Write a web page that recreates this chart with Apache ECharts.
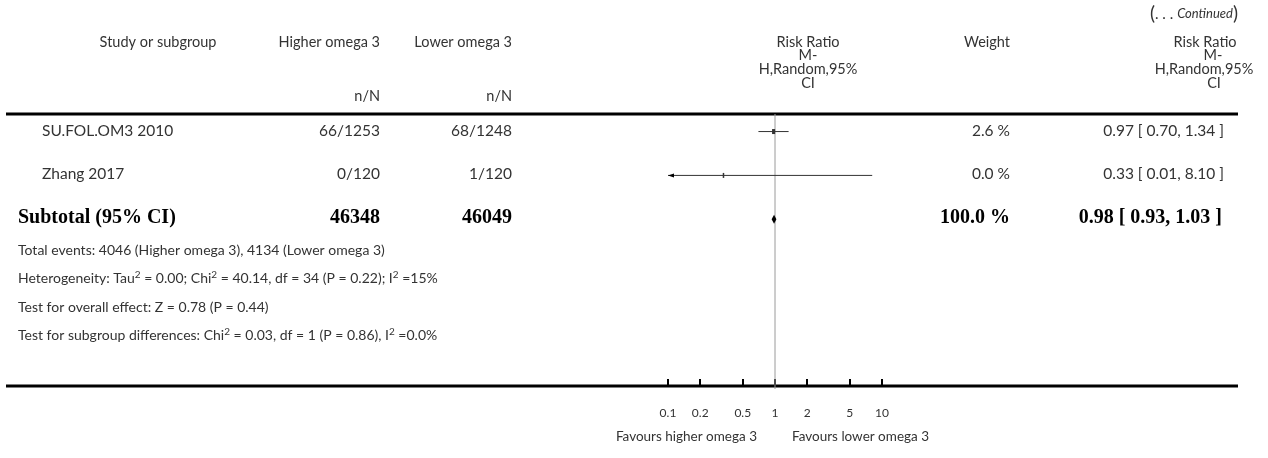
<!DOCTYPE html>
<html>
<head>
<meta charset="utf-8">
<script src="https://cdn.jsdelivr.net/npm/echarts@6/dist/echarts.min.js"></script>
<style>
  html, body { margin: 0; padding: 0; background: #fff; }
  #chart { width: 1268px; height: 458px; }
</style>
</head>
<body>
<div id="chart"></div>
<script>
// Study rows
const studies = ['SU.FOL.OM3 2010', 'Zhang 2017'];
const higherEvents = [66, 0];
const higherTotal = [1253, 120];
const lowerEvents = [68, 1];
const lowerTotal = [1248, 120];
const weights = [2.6, 0.0];
const riskRatio = [0.97, 0.33];
const ciLow = [0.70, 0.01];
const ciHigh = [1.34, 8.10];

// Pooled estimate
const subtotalLabel = 'Subtotal (95% CI)';
const subtotalHigher = 46348;
const subtotalLower = 46049;
const subtotalWeight = 100.0;
const subtotalRR = 0.98;
const subtotalLow = 0.93;
const subtotalHigh = 1.03;

// Summary statistics
const footerLines = [
  'Total events: 4046 (Higher omega 3), 4134 (Lower omega 3)',
  'Heterogeneity: Tau² = 0.00; Chi² = 40.14, df = 34 (P = 0.22); I² =15%',
  'Test for overall effect: Z = 0.78 (P = 0.44)',
  'Test for subgroup differences: Chi² = 0.03, df = 1 (P = 0.86), I² =0.0%'
];

// Axis
const tickValues = [0.1, 0.2, 0.5, 1, 2, 5, 10];
const X_MIN = 0.1, X_MAX = 10;
const favourLeft = 'Favours higher omega 3';
const favourRight = 'Favours lower omega 3';

// ---- layout ----
const FONT = 'Lato, "Open Sans", sans-serif';
const SERIF = '"Liberation Serif", "DejaVu Serif", serif';
const TXT = '#333';
const ROW_Y = [131, 174, 218];
const ROW_POS = [0.4, 1.4, 2.4];     // row positions on the hidden y axis
const Y_MAX = 6.2;
const COL = { study: 42, higher: 380, lower: 512, weight: 1010, rr: 1224 };
const ROW_FONT = '15.5px ' + FONT;
const HEAD_FONT = '14.5px ' + FONT;

const fmt2 = v => v.toFixed(2);
const ciText = (r, l, h) => fmt2(r) + ' [ ' + fmt2(l) + ', ' + fmt2(h) + ' ]';

function txt(text, x, y, opts) {
  opts = opts || {};
  return {
    type: 'text', silent: true,
    style: {
      text: text, x: x, y: y,
      font: opts.font || ROW_FONT,
      fill: opts.fill || TXT,
      textAlign: opts.align || 'left',
      textVerticalAlign: opts.valign || 'middle'
    }
  };
}

// footer line with raised "2" exponents
function supText(line, x, y) {
  const parts = line.split('²');
  let rich = '';
  parts.forEach(function (p, i) {
    if (p.length) rich += '{n|' + p.replace(/[{}|]/g, '') + '}';
    if (i < parts.length - 1) rich += '{s|2}';
  });
  return {
    type: 'text', silent: true,
    style: {
      text: rich, x: x, y: y, textAlign: 'left', textVerticalAlign: 'middle',
      rich: {
        n: { font: '14px ' + FONT, fill: TXT, lineHeight: 18, verticalAlign: 'bottom' },
        s: { font: '10px ' + FONT, fill: TXT, lineHeight: 18, verticalAlign: 'top', padding: [3, 0, 0, 0] }
      }
    }
  };
}

const graphics = [];
// continuation marker
graphics.push({
  type: 'text', silent: true,
  style: {
    text: '{p|(}{d|. . . }{i|Continued}{p|)}',
    x: 1238, y: 14, textAlign: 'right', textVerticalAlign: 'middle',
    rich: {
      p: { font: '19px ' + FONT, fill: TXT },
      d: { font: '15px ' + FONT, fill: TXT },
      i: { font: 'italic 13px ' + FONT, fill: TXT }
    }
  }
});
// header
graphics.push(txt('Study or subgroup', 158, 42, { align: 'center', font: HEAD_FONT }));
graphics.push(txt('Higher omega 3', COL.higher, 42, { align: 'right', font: HEAD_FONT }));
graphics.push(txt('Lower omega 3', COL.lower, 42, { align: 'right', font: HEAD_FONT }));
graphics.push(txt('n/N', COL.higher, 96, { align: 'right', font: HEAD_FONT }));
graphics.push(txt('n/N', COL.lower, 96, { align: 'right', font: HEAD_FONT }));
graphics.push(txt('Weight', COL.weight, 42, { align: 'right', font: HEAD_FONT }));
const headLines = ['Risk Ratio', 'M-', 'H,Random,95%', 'CI'];
const headY = [42, 55.5, 69, 83];
const midX = [808, 808, 808, 808];
const rightX = [1205, 1213, 1204, 1214];
headLines.forEach(function (t, i) {
  graphics.push(txt(t, midX[i], headY[i], { align: 'center', font: HEAD_FONT }));
  graphics.push(txt(t, rightX[i], headY[i], { align: 'center', font: HEAD_FONT }));
});

// table rules
graphics.push({ type: 'line', silent: true, shape: { x1: 6, y1: 114, x2: 1238, y2: 114 },
  style: { stroke: '#000', lineWidth: 3 } });
graphics.push({ type: 'line', silent: true, shape: { x1: 6, y1: 386, x2: 1238, y2: 386 },
  style: { stroke: '#000', lineWidth: 3 } });

// study rows
studies.forEach(function (name, i) {
  const y = ROW_Y[i];
  graphics.push(txt(name, COL.study, y));
  graphics.push(txt(higherEvents[i] + '/' + higherTotal[i], COL.higher, y, { align: 'right' }));
  graphics.push(txt(lowerEvents[i] + '/' + lowerTotal[i], COL.lower, y, { align: 'right' }));
  graphics.push(txt(weights[i].toFixed(1) + ' %', COL.weight, y, { align: 'right' }));
  graphics.push(txt(ciText(riskRatio[i], ciLow[i], ciHigh[i]), COL.rr, y, { align: 'right' }));
});

// subtotal row
const sy = ROW_Y[2];
const BOLD = 'bold 20px ' + SERIF;
graphics.push(txt(subtotalLabel, 18, sy, { font: BOLD, fill: '#000' }));
graphics.push(txt(String(subtotalHigher), COL.higher, sy, { font: BOLD, fill: '#000', align: 'right' }));
graphics.push(txt(String(subtotalLower), COL.lower, sy, { font: BOLD, fill: '#000', align: 'right' }));
graphics.push(txt(subtotalWeight.toFixed(1) + ' %', COL.weight, sy, { font: BOLD, fill: '#000', align: 'right' }));
graphics.push(txt(ciText(subtotalRR, subtotalLow, subtotalHigh), 1222, sy, { font: BOLD, fill: '#000', align: 'right' }));

// summary statistics
const FOOT_Y = [248, 276, 305, 333];
footerLines.forEach(function (line, i) {
  graphics.push(supText(line, 18, FOOT_Y[i]));
});

// favours labels
graphics.push(txt(favourLeft, 757, 437, { align: 'right', font: '13.5px ' + FONT }));
graphics.push(txt(favourRight, 792, 437, { align: 'left', font: '13.5px ' + FONT }));

// series data
const studyData = studies.map(function (s, i) {
  return [riskRatio[i], ciLow[i], ciHigh[i], ROW_POS[i], weights[i]];
});
const pooledData = [[subtotalRR, subtotalLow, subtotalHigh, ROW_POS[2]]];

const chart = echarts.init(document.getElementById('chart'), null, { renderer: 'canvas' });
chart.setOption({
  animation: false,
  backgroundColor: '#fff',
  grid: { left: 668, width: 214, top: 114, height: 272, containLabel: false },
  xAxis: {
    type: 'log', logBase: 10, min: X_MIN, max: X_MAX, position: 'bottom',
    axisLine: { show: false, onZero: false },
    splitLine: { show: false },
    axisTick: { show: true, inside: true, length: 7, customValues: tickValues,
      lineStyle: { color: '#000', width: 2 } },
    axisLabel: { show: true, customValues: tickValues, margin: 21,
      color: TXT, fontFamily: FONT, fontSize: 12,
      formatter: function (v) { return String(v); } }
  },
  yAxis: {
    type: 'value', min: 0, max: Y_MAX, inverse: true, show: false
  },
  graphic: graphics,
  series: [
    {
      // line of no effect
      type: 'custom', silent: true, clip: false,
      data: [[1, 0, Y_MAX]],
      encode: { x: 0, y: [1, 2] },
      renderItem: function (params, api) {
        const a = api.coord([api.value(0), api.value(1)]);
        const b = api.coord([api.value(0), api.value(2)]);
        return { type: 'line', shape: { x1: a[0], y1: a[1], x2: b[0], y2: b[1] + 3 },
          style: { stroke: '#9a9a9a', lineWidth: 1 } };
      },
      z: 1
    },
    {
      // study estimates with confidence intervals
      type: 'custom', silent: true, clip: false,
      data: studyData,
      encode: { x: [0, 1, 2], y: 3 },
      renderItem: function (params, api) {
        const r = api.value(0), lo = api.value(1), hi = api.value(2), row = api.value(3), w = api.value(4);
        const pLo = api.coord([Math.max(lo, X_MIN), row]);
        const pHi = api.coord([Math.min(hi, X_MAX), row]);
        const pR = api.coord([r, row]);
        const children = [
          { type: 'line', shape: { x1: pLo[0], y1: pLo[1], x2: pHi[0], y2: pHi[1] },
            style: { stroke: '#333', lineWidth: 1 } }
        ];
        const side = 1.5 + w * 0.6;
        children.push({ type: 'rect',
          shape: { x: pR[0] - side / 2, y: pR[1] - 2.5, width: side, height: 5 },
          style: { fill: '#333' } });
        if (lo < X_MIN) {
          children.push({ type: 'polygon',
            shape: { points: [[pLo[0], pLo[1]], [pLo[0] + 6, pLo[1] - 2], [pLo[0] + 6, pLo[1] + 2]] },
            style: { fill: '#000' } });
        }
        if (hi > X_MAX) {
          children.push({ type: 'polygon',
            shape: { points: [[pHi[0], pHi[1]], [pHi[0] - 6, pHi[1] - 2], [pHi[0] - 6, pHi[1] + 2]] },
            style: { fill: '#000' } });
        }
        return { type: 'group', children: children };
      },
      z: 3
    },
    {
      // pooled estimate diamond
      type: 'custom', silent: true, clip: false,
      data: pooledData,
      encode: { x: [0, 1, 2], y: 3 },
      renderItem: function (params, api) {
        const row = api.value(3);
        const c = api.coord([api.value(0), row]);
        const l = api.coord([api.value(1), row]);
        const h = api.coord([api.value(2), row]);
        return { type: 'polygon',
          shape: { points: [[l[0], c[1]], [c[0], c[1] - 4.5], [h[0], c[1]], [c[0], c[1] + 4.5]] },
          style: { fill: '#000' } };
      },
      z: 3
    }
  ]
});
</script>
</body>
</html>
